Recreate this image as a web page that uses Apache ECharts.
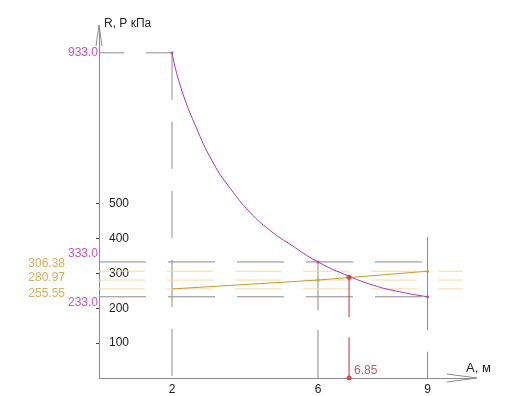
<!DOCTYPE html>
<html>
<head>
<meta charset="utf-8">
<script src="https://cdn.jsdelivr.net/npm/echarts@6/dist/echarts.min.js"></script>
<style>html,body{margin:0;padding:0;background:#fff}#c{width:530px;height:396px}</style>
</head>
<body>
<div id="c"></div>
<script>
// ---- data ----
const rX = [2, 2.22, 2.63, 3.13, 3.59, 4.14, 4.68, 5.23, 6, 6.85, 7.52, 8.16, 9];
const rVals = [933, 841, 727, 617, 545, 475, 424, 384, 333, 292, 266, 249, 233];
const pX = [2, 6, 9];
const pVals = [255.55, 280.97, 306.38];
const xTicks = [2, 6, 9];
const yTicks = [100, 200, 300, 400, 500];
const rLevels = [933, 333, 233];
const pLevels = [306.38, 280.97, 255.55];
const crossX = 6.85;
const crossY = 289;
const topOf9 = 405;

// ---- styles ----
const MAG = '#a23ab4', MAGT = '#bb22bb', ORG = '#c99a2c', ORGT = '#d29a34', ORGL = '#f5dba6';
const GRAY = '#8c8c8c', RED = '#e02828', DRED = '#a83838';
const FONT = 'Liberation Sans, Arial, sans-serif';
const rLabelOffsets = [[0, 0], [0, -8], [0, 6]];
const pLabelOffsets = [[0, -8], [0, -2], [0, 5]];

function seg(a, b, color, dash, width) {
  return { type: 'line', data: [a, b], symbol: 'none', silent: true, z: 1,
    lineStyle: { color: color, width: width || 1, type: dash } };
}

const series = [];
// reference gray dashed lines
series.push(seg([0, rLevels[0]], [rX[0], rLevels[0]], GRAY, [25, 22]));
series.push(seg([0, rLevels[1]], [9, rLevels[1]], GRAY, [47, 22]));
series.push(seg([0, rLevels[2]], [9, rLevels[2]], GRAY, [47, 22]));
series.push(seg([rX[0], rLevels[0]], [rX[0], 0], GRAY, [47, 22]));
series.push(seg([6, rLevels[1]], [6, 0], GRAY, [48, 20]));
series.push(seg([9, topOf9], [9, 0], GRAY, [93, 22]));
// orange dotted levels
pLevels.forEach(v => series.push(seg([0, v], [9.95, v], ORGL, [46, 22])));
// crossing vertical
series.push(seg([crossX, crossY], [crossX, 0], DRED, [40, 20]));

// curves
series.push({ type: 'line', data: rX.map((x, i) => [x, rVals[i]]), symbol: 'none', smooth: 0.5,
  lineStyle: { color: MAG, width: 1 }, z: 3 });
series.push({ type: 'line', data: pX.map((x, i) => [x, pVals[i]]), symbol: 'none',
  lineStyle: { color: ORG, width: 1 }, z: 3 });

// dots
series.push({ type: 'scatter', symbolSize: 3, itemStyle: { color: MAG }, z: 4,
  data: [[6, rLevels[1]], [9, rLevels[2]], [2, rLevels[0]]] });
series.push({ type: 'scatter', symbolSize: 3, itemStyle: { color: ORG }, z: 4,
  data: [[6, pVals[1]], [9, pVals[2]]] });
series.push({ type: 'scatter', symbolSize: 5, itemStyle: { color: RED }, z: 5,
  data: [[crossX, crossY], [crossX, 0]] });

// value labels
series.push({ type: 'scatter', symbolSize: 0, z: 6,
  data: rLevels.map((v, i) => ({ value: [0, v], label: { offset: rLabelOffsets[i] } })),
  label: { show: true, position: 'left', distance: 1, color: MAGT, fontSize: 12, fontFamily: FONT,
    formatter: p => p.value[1].toFixed(1) } });
series.push({ type: 'scatter', symbolSize: 0, z: 6,
  data: pLevels.map((v, i) => ({ value: [0, v], label: { offset: pLabelOffsets[i] } })),
  label: { show: true, position: 'left', distance: 34, color: ORGT, fontSize: 12, fontFamily: FONT,
    formatter: p => p.value[1].toFixed(2) } });
series.push({ type: 'scatter', symbolSize: 0, z: 6,
  data: [[crossX, 0]],
  label: { show: true, position: 'right', distance: 5, offset: [0, -7], color: DRED, fontSize: 12, fontFamily: FONT,
    formatter: p => p.value[0].toFixed(2) } });

const chart = echarts.init(document.getElementById('c'), null, { renderer: 'canvas' });
chart.setOption({
  animation: false,
  backgroundColor: '#fff',
  grid: { left: 99, right: 55, top: 26, bottom: 17 },
  xAxis: {
    type: 'value', min: 0, max: 10.3,
    splitLine: { show: false },
    axisLine: { lineStyle: { color: GRAY } },
    axisTick: { show: false },
    axisLabel: { customValues: xTicks, margin: 6, color: '#222', fontSize: 12, fontFamily: FONT },
    name: 'A, м', nameLocation: 'end', nameGap: -9,
    nameTextStyle: { align: 'left', verticalAlign: 'bottom', color: '#222', fontSize: 13, fontFamily: FONT, padding: [0, 0, 3, 0] }
  },
  yAxis: {
    type: 'value', min: 0, max: 1010,
    splitLine: { show: false },
    axisLine: { lineStyle: { color: GRAY } },
    axisTick: { customValues: yTicks, length: 3, lineStyle: { color: '#444' } },
    axisLabel: { customValues: yTicks, inside: true, margin: 10, color: '#222', fontSize: 12, fontFamily: FONT },
    name: 'R, P кПа', nameLocation: 'end', nameGap: 2,
    nameTextStyle: { align: 'left', verticalAlign: 'middle', color: '#222', fontSize: 12, fontFamily: FONT, padding: [0, 0, 0, 5] }
  },
  series: series
});

// open arrow heads at axis ends
const yEnd = chart.convertToPixel({ gridIndex: 0 }, [0, 1010]);
const xEnd = chart.convertToPixel({ gridIndex: 0 }, [10.3, 0]);
chart.setOption({
  graphic: [
    { type: 'polyline', silent: true, shape: { points: [[yEnd[0] - 3, yEnd[1] + 20], [yEnd[0], yEnd[1] - 1], [yEnd[0] + 3, yEnd[1] + 20]] },
      style: { stroke: GRAY, fill: null, lineWidth: 1 } },
    { type: 'polyline', silent: true, shape: { points: [[xEnd[0] - 28, xEnd[1] - 4], [xEnd[0] + 2, xEnd[1]], [xEnd[0] - 28, xEnd[1] + 4]] },
      style: { stroke: GRAY, fill: null, lineWidth: 1 } }
  ]
});
</script>
</body>
</html>
